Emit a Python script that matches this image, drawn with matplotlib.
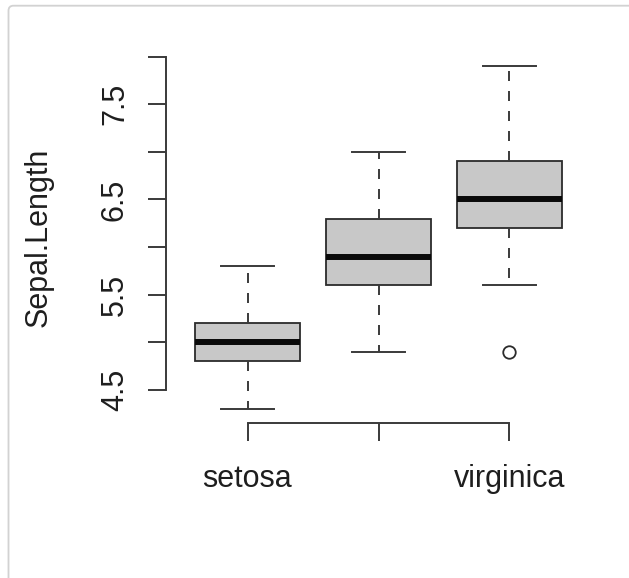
import matplotlib
matplotlib.use('Agg')
import matplotlib.pyplot as plt
import matplotlib.transforms as mtransforms
from matplotlib.patches import FancyBboxPatch

# ---- data (iris Sepal.Length by Species) ----
species = ['setosa', 'versicolor', 'virginica']
shown_labels = ['setosa', '', 'virginica']
whisker_low = [4.3, 4.9, 5.6]
q1 = [4.8, 5.6, 6.2]
median = [5.0, 5.9, 6.5]
q3 = [5.2, 6.3, 6.9]
whisker_high = [5.8, 7.0, 7.9]
outliers = [[], [], [4.9]]
y_ticks = [4.5, 5.0, 5.5, 6.0, 6.5, 7.0, 7.5, 8.0]
y_tick_labels = ['4.5', '', '5.5', '', '6.5', '', '7.5', '']
y_label = 'Sepal.Length'

W, H = 629, 578
plt.rcParams['font.family'] = ['Liberation Sans', 'DejaVu Sans']
plt.rcParams['lines.scale_dashes'] = False

fig = plt.figure(figsize=(W / 100, H / 100), dpi=100)
fig.patch.set_facecolor('white')

# light frame around the picture
border = FancyBboxPatch((8.5, -20), 700, H - 5.7 + 20,
                        boxstyle='round,pad=0,rounding_size=5',
                        transform=mtransforms.IdentityTransform(),
                        fill=False, edgecolor='#d2d2d2', linewidth=1.3)
fig.add_artist(border)

# plot region in pixels
L, R, T, B = 166.3, 590.7, 52.5, 422.6
ax = fig.add_axes([L / W, 1 - B / H, (R - L) / W, (B - T) / H])

stats = []
for i in range(len(species)):
    stats.append(dict(label=species[i], whislo=whisker_low[i], q1=q1[i],
                      med=median[i], q3=q3[i], whishi=whisker_high[i],
                      fliers=outliers[i]))

line_col = '#3a3a3a'
ax.bxp(stats, positions=[1, 2, 3], widths=0.8, capwidths=0.4,
       patch_artist=True, showfliers=True,
       boxprops=dict(facecolor='#c8c8c8', edgecolor='#2b2b2b', linewidth=1.3),
       medianprops=dict(color='#0a0a0a', linewidth=4.3, solid_capstyle='butt'),
       whiskerprops=dict(color=line_col, linewidth=1.4, linestyle=(0, (7.2, 7.2))),
       capprops=dict(color=line_col, linewidth=1.4),
       flierprops=dict(marker='o', markerfacecolor='none',
                       markeredgecolor='#2b2b2b', markersize=9,
                       markeredgewidth=1.3))

# R-like axis ranges (4% extension)
all_vals = whisker_low + whisker_high + [v for o in outliers for v in o]
lo, hi = min(all_vals), max(all_vals)
ext = 0.04 * (hi - lo)
ax.set_ylim(lo - ext, hi + ext)
xext = 0.04 * len(species)
ax.set_xlim(0.5 - xext, len(species) + 0.5 + xext)

for s in ['top', 'right']:
    ax.spines[s].set_visible(False)
for s in ['left', 'bottom']:
    ax.spines[s].set_color(line_col)
    ax.spines[s].set_linewidth(1.4)
ax.spines['left'].set_bounds(y_ticks[0], y_ticks[-1])
ax.spines['bottom'].set_bounds(1, len(species))

ax.set_yticks(y_ticks)
ax.set_yticklabels([''] * len(y_ticks))
ax.set_xticks([1, 2, 3])
ax.set_xticklabels([''] * 3)
ax.tick_params(axis='both', direction='out', length=13.3, width=1.4,
               color=line_col)
ax.set_facecolor('none')

fs = 22
txt_col = '#1e1e1e'
ytrans = mtransforms.blended_transform_factory(fig.transFigure, ax.transData)
for v, lab in zip(y_ticks, y_tick_labels):
    if lab:
        fig.text(123 / W, v, lab, transform=ytrans, rotation=90,
                 rotation_mode='anchor', ha='center', va='baseline',
                 fontsize=fs, color=txt_col)

xtrans = mtransforms.blended_transform_factory(ax.transData, fig.transFigure)
for i, lab in enumerate(shown_labels):
    if lab:
        fig.text(i + 1, 1 - 487 / H, lab, transform=xtrans, ha='center',
                 va='baseline', fontsize=fs, color=txt_col)

fig.text(47 / W, 1 - ((T + B) / 2) / H, y_label, rotation=90,
         rotation_mode='anchor', ha='center', va='baseline',
         fontsize=fs, color=txt_col)

fig.savefig('out.png', dpi=100, facecolor='white')
